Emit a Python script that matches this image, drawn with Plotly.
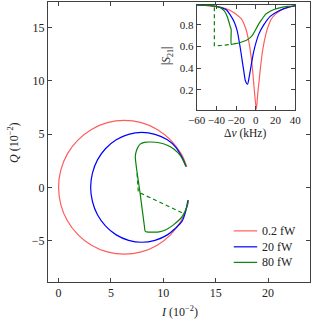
import plotly.graph_objects as go

# ---------------- data ----------------
labels = ["0.2 fW", "20 fW", "80 fW"]

# IQ plane (units of 1e-2)
red_I = [12.24, 11.71, 10.71, 9.42, 7.90, 6.28, 4.66, 3.15, 1.85, 0.85, 0.22, 0.01,
         0.22, 0.85, 1.85, 3.15, 4.66, 6.28, 7.90, 9.42, 10.71, 11.71, 12.39]
red_Q = [1.94, 3.14, 4.43, 5.43, 6.06, 6.27, 6.06, 5.43, 4.43, 3.14, 1.62, 0.0,
         -1.62, -3.14, -4.43, -5.43, -6.06, -6.27, -6.06, -5.43, -4.43, -3.14, -1.41]

blue_I = [12.17, 11.78, 11.20, 10.39, 9.21, 7.95, 6.69, 5.51, 4.50, 3.72, 3.24, 3.07,
          3.24, 3.72, 4.50, 5.51, 6.69, 7.95, 9.21, 10.39, 11.20, 11.78, 12.15, 12.34]
blue_Q = [1.96, 2.83, 3.75, 4.46, 4.97, 5.15, 4.97, 4.46, 3.64, 2.575, 1.33, 0.0,
          -1.33, -2.575, -3.64, -4.46, -4.97, -5.15, -4.97, -4.46, -3.80, -3.20, -2.20, -1.21]

green_I = [12.17, 11.62, 11.00, 10.38, 9.60, 8.82, 8.20, 7.80, 7.55, 7.40, 7.33,
           7.80, 8.20, 8.27, 8.40, 9.00, 9.60, 10.30, 11.00, 11.78, 12.25, 12.40]
green_Q = [1.96, 2.99, 3.60, 3.95, 4.18, 4.25, 4.22, 4.05, 3.70, 3.30, 2.90,
           -0.64, -3.65, -4.12, -4.18, -4.20, -4.18, -3.95, -3.50, -2.78, -1.84, -1.21]

green_dash_I = [7.50, 7.62, 11.88]
green_dash_Q = [1.30, -0.45, -2.43]

# inset |S21| vs detuning (kHz)
red_f = [-60, -50, -40, -30, -25, -20, -15, -10, -7, -5, -3, -1.5, 0.5,
         2, 3.5, 5, 7, 10, 13, 16, 20, 25, 30, 35, 40]
red_s = [0.985, 0.98, 0.97, 0.95, 0.93, 0.90, 0.86, 0.76, 0.64, 0.52, 0.35, 0.19, 0.015,
         0.17, 0.30, 0.43, 0.57, 0.71, 0.80, 0.86, 0.90, 0.935, 0.955, 0.968, 0.976]

blue_f = [-60, -45, -35, -30, -25, -22, -19, -16, -14, -12, -10.5, -8.5, -6.5, -5, -2,
          3, 8, 14.5, 23, 33, 40]
blue_s = [0.985, 0.978, 0.96, 0.94, 0.88, 0.83, 0.75, 0.60, 0.48, 0.36, 0.28, 0.25, 0.33,
          0.41, 0.56, 0.715, 0.80, 0.88, 0.93, 0.965, 0.976]

green_f = [-60, -50, -42, -37, -34, -32, -30, -28.5, -27, -25.8, -25, -24.8,
           -22, -18.8, -15, -10, -6, -3, 0, 3, 6, 10, 15, 20, 25, 32, 40]
green_s = [0.985, 0.982, 0.975, 0.965, 0.948, 0.93, 0.90, 0.865, 0.82, 0.78, 0.76, 0.62,
           0.625, 0.63, 0.64, 0.655, 0.68, 0.71, 0.76, 0.81, 0.85, 0.90, 0.93, 0.948, 0.96, 0.972, 0.978]

green_dash_f = [-42, -42, -35, -30, -25]
green_dash_s = [0.965, 0.607, 0.61, 0.615, 0.62]

# ---------------- styling ----------------
RED = "#ff5c5c"
BLUE = "#0000ff"
GREEN = "#0a820a"
COLORS = [RED, BLUE, GREEN]
LW = 1.2
FONT = "Liberation Serif"
AX = "#404040"

# plot area in pixels: x 48..316, y 1..282
def px(x):
    return (x - 48) / 268.0

def py(y):
    return (282 - y) / 281.0

fig = go.Figure()

# main IQ plot
fig.add_trace(go.Scatter(x=red_I, y=red_Q, mode="lines", name=labels[0], showlegend=False,
                         line=dict(color=RED, width=LW, shape="spline", smoothing=1)))
fig.add_trace(go.Scatter(x=blue_I, y=blue_Q, mode="lines", name=labels[1], showlegend=False,
                         line=dict(color=BLUE, width=LW, shape="spline", smoothing=1)))
fig.add_trace(go.Scatter(x=green_I, y=green_Q, mode="lines", name=labels[2], showlegend=False,
                         line=dict(color=GREEN, width=LW, shape="spline", smoothing=0.8)))
fig.add_trace(go.Scatter(x=green_dash_I, y=green_dash_Q, mode="lines", showlegend=False,
                         line=dict(color=GREEN, width=LW, dash="4px,3px")))

# inset
fig.add_trace(go.Scatter(x=red_f, y=red_s, mode="lines", showlegend=False, xaxis="x2", yaxis="y2",
                         line=dict(color=RED, width=LW, shape="spline", smoothing=0.6)))
fig.add_trace(go.Scatter(x=blue_f, y=blue_s, mode="lines", showlegend=False, xaxis="x2", yaxis="y2",
                         line=dict(color=BLUE, width=LW, shape="spline", smoothing=0.8)))
fig.add_trace(go.Scatter(x=green_f, y=green_s, mode="lines", showlegend=False, xaxis="x2", yaxis="y2",
                         line=dict(color=GREEN, width=LW, shape="spline", smoothing=0.6)))
fig.add_trace(go.Scatter(x=green_dash_f, y=green_dash_s, mode="lines", showlegend=False,
                         xaxis="x2", yaxis="y2",
                         line=dict(color=GREEN, width=LW, dash="4px,3px")))

axis_common = dict(showgrid=False, zeroline=False, showline=True, linecolor=AX, linewidth=1,
                   mirror="allticks", ticks="inside", ticklen=4, tickcolor=AX, tickwidth=0.8)

# hand-made legend (pgfplots style, tight row spacing)
legend_rows = [230.7, 246.7, 262.3]
shapes = []
annotations = []
for lab, col, yy in zip(labels, COLORS, legend_rows):
    shapes.append(dict(type="line", xref="paper", yref="paper", x0=px(238), x1=px(262),
                       y0=py(yy), y1=py(yy), line=dict(color=col, width=LW)))
    annotations.append(dict(text=lab, xref="paper", yref="paper", x=px(264.5), y=py(yy),
                            xanchor="left", yanchor="middle", showarrow=False,
                            font=dict(size=12)))

annotations += [
    dict(text="<i>I</i> (10<sup>−2</sup>)", xref="paper", yref="paper", x=px(182.5), y=py(312),
         xanchor="center", yanchor="middle", showarrow=False, font=dict(size=12)),
    dict(text="<i>Q</i> (10<sup>−2</sup>)", xref="paper", yref="paper", x=px(12.7), y=py(142),
         xanchor="center", yanchor="middle", showarrow=False, textangle=-90, font=dict(size=12)),
    dict(text="|<i>S</i><sub>21</sub>|", xref="paper", yref="paper", x=px(170), y=py(55),
         xanchor="center", yanchor="middle", showarrow=False, textangle=-90, font=dict(size=11.5)),
    dict(text="Δ<i>ν</i> (kHz)", xref="paper", yref="paper", x=px(250), y=py(132.7),
         xanchor="center", yanchor="middle", showarrow=False, font=dict(size=11.5)),
]

fig.update_layout(
    width=317, height=322,
    margin=dict(l=48, r=1, t=1, b=40),
    paper_bgcolor="white", plot_bgcolor="white",
    font=dict(family=FONT, size=12, color="#222"),
    xaxis=dict(range=[-1, 24], tickvals=[0, 5, 10, 15, 20], domain=[0, 1],
               tickfont=dict(family=FONT, size=12, color="#222"), **axis_common),
    yaxis=dict(range=[-8.88, 17.38], tickvals=[-5, 0, 5, 10, 15], domain=[0, 1],
               tickfont=dict(family=FONT, size=12, color="#222"), **axis_common),
    xaxis2=dict(range=[-60, 40], tickvals=[-60, -40, -20, 0, 20, 40], domain=[px(200), px(301)],
                anchor="y2", tickfont=dict(family=FONT, size=11, color="#222"), **axis_common),
    yaxis2=dict(range=[0.015, 0.985], tickvals=[0.2, 0.4, 0.6, 0.8], domain=[py(109), py(4)],
                anchor="x2", tickformat=".1f",
                tickfont=dict(family=FONT, size=11, color="#222"), **axis_common),
    showlegend=False,
    shapes=shapes,
    annotations=annotations,
)

fig.write_html("out.html", config={"displayModeBar": False},
               post_script="document.body.style.margin='0';document.body.style.padding='0';")
